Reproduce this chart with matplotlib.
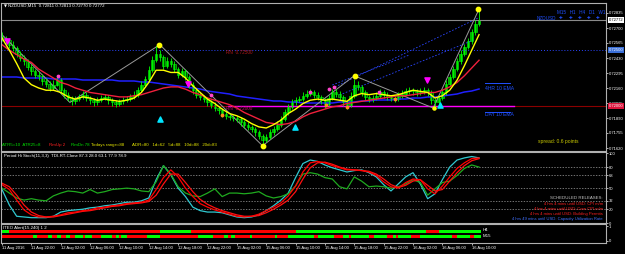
import numpy as np
import matplotlib
matplotlib.use("Agg")
import matplotlib.pyplot as plt

W, H = 625, 254
BASE = 0.72000
FONT = ['Liberation Sans', 'DejaVu Sans']

# NZDUSD M15, sampled every 2nd bar (30 min), pips above 0.72000
first_open = 63
close_pips = [61, 59, 55, 52, 47, 43, 40, 35, 31, 28, 27, 22, 20, 16, 19, 23, 14, 10, 7, 4,
              6, 8, 10, 7, 5, 3, 5, 7, 8, 5, 3, 2, 4, 5, 6, 8, 10, 14, 19, 24,
              32, 41, 47, 44, 36, 40, 38, 33, 28, 31, 26, 19, 14, 10, 8, 6, 3, 1, -2, -4,
              -7, -9, -10, -11, -12, -15, -17, -19, -21, -24, -27, -31, -28, -24, -21, -17, -12, -6, -1, 3,
              5, 6, 9, 11, 12, 10, 8, 5, 2, 7, 12, 11, 8, 3, 1, 9, 19, 17, 12, 8,
              6, 7, 9, 12, 10, 8, 7, 6, 9, 11, 13, 14, 13, 12, 13, 14, 12, 5, 3, 7,
              12, 20, 26, 33, 40, 47, 53, 58, 66, 74, 77]
high_pips = [66, 63, 61, 58, 54, 49, 46, 42, 38, 33, 31, 29, 25, 22, 23, 28, 25, 16, 12, 9,
             9, 11, 13, 12, 9, 7, 8, 10, 11, 10, 7, 5, 6, 8, 9, 11, 13, 17, 22, 27,
             36, 45, 54, 50, 46, 44, 43, 40, 35, 34, 33, 28, 21, 16, 12, 10, 8, 5, 3, 0,
             -2, -5, -7, -8, -9, -10, -13, -15, -17, -19, -22, -25, -25, -21, -18, -14, -9, -3, 2, 6,
             8, 9, 12, 14, 15, 14, 12, 10, 7, 10, 15, 15, 13, 10, 5, 12, 24, 22, 19, 14,
             10, 10, 12, 15, 14, 12, 10, 9, 12, 14, 16, 17, 16, 15, 16, 17, 16, 14, 7, 10,
             15, 23, 29, 36, 43, 50, 56, 61, 69, 77, 87]
low_pips = [58, 56, 52, 49, 44, 40, 37, 32, 28, 25, 23, 19, 17, 13, 14, 18, 11, 7, 4, 1,
            2, 4, 6, 4, 2, 0, 1, 3, 5, 2, 0, -1, 0, 2, 3, 4, 6, 8, 12, 17,
            22, 30, 39, 40, 33, 34, 35, 30, 25, 26, 23, 16, 11, 7, 5, 3, 0, -2, -5, -7,
            -10, -12, -13, -14, -15, -18, -20, -22, -24, -27, -30, -36, -33, -30, -26, -23, -19, -14, -8, -3,
            1, 3, 4, 7, 9, 7, 5, 2, -2, 0, 5, 8, 5, 0, -3, -1, 7, 14, 9, 5,
            3, 3, 5, 7, 7, 5, 4, 3, 4, 7, 9, 11, 10, 9, 10, 11, 9, 2, -2, 1,
            5, 10, 18, 24, 31, 38, 45, 51, 56, 64, 72]

# moving averages, every 4th bar, pips
yellow_ma = [61, 50, 38, 25, 19, 16, 14, 14, 12, 8, 6, 8, 7, 5, 6, 5, 4, 5, 7, 12,
             21, 32, 32, 30, 30, 25, 18, 12, 6, 2, -3, -7, -9, -12, -16, -19, -20, -17, -13, -7,
             -3, 2, 5, 6, 5, 6, 5, 4, 9, 11, 10, 11, 10, 9, 10, 12, 14, 13, 12, 7,
             9, 14, 23, 36, 50, 64]
red_ma = [55, 50, 46, 42, 39, 33, 29, 25, 21, 19, 16, 14, 12, 11, 10, 9, 8, 8, 9, 10,
          12, 14, 16, 17, 17, 15, 12, 10, 7, 5, 3, 1, -2, -6, -9, -12, -15, -16, -17, -16,
          -14, -10, -7, -5, -3, -1, 0, 2, 3, 4, 5, 6, 7, 8, 9, 9, 10, 11, 12, 12,
          14, 17, 21, 27, 34, 41]
blue_ma = [25.9, 25.9, 25.9, 25.0, 25.0, 25.0, 25.0, 24.1, 24.1, 24.1, 24.1, 23.2, 23.2, 23.2, 23.2,
           23.2, 22.3, 22.3, 22.3, 21.4, 21.4, 20.5, 19.6, 18.7, 17.8, 16.9, 16.0, 15.1, 13.3, 12.4,
           11.5, 10.6, 8.8, 7.9, 7.0, 6.1, 5.2, 4.3, 4.3, 3.4, 3.4, 2.5, 2.5, 2.5, 2.5,
           2.5, 3.4, 3.4, 3.4, 4.3, 4.3, 5.2, 5.2, 5.2, 6.1, 6.1, 7.0, 7.0, 7.9, 7.9,
           8.8, 9.7, 10.6, 12.4, 13.3, 15.1]

# Period Hi Stoch / TDI lines, every 4th bar
cyan_line = [48, 26, 10, 9, 8, 8, 8, 10, 16, 18, 19, 20, 22, 23, 25, 26, 28, 30, 30, 32,
             36, 62, 82, 69, 50, 38, 23, 18, 16, 16, 15, 12, 9, 8, 9, 12, 18, 25, 33, 43,
             65, 85, 90, 88, 83, 79, 76, 73, 75, 76, 72, 66, 55, 46, 56, 66, 72, 56, 35, 42,
             62, 80, 90, 93, 95, 93]
red_line1 = [55, 48, 33, 19, 12, 9, 9, 10, 12, 15, 16, 18, 19, 22, 23, 25, 26, 28, 29, 30,
             33, 48, 65, 76, 66, 50, 38, 28, 23, 19, 16, 13, 10, 9, 10, 13, 18, 23, 29, 39,
             53, 73, 86, 88, 86, 82, 79, 76, 76, 75, 73, 68, 59, 52, 50, 58, 63, 62, 49, 42,
             53, 66, 78, 86, 92, 93]
red_line2 = [57, 52, 40, 26, 16, 11, 9, 9, 11, 13, 15, 17, 18, 20, 22, 24, 25, 27, 28, 29,
             31, 40, 56, 70, 70, 58, 45, 34, 27, 22, 18, 15, 12, 10, 10, 11, 15, 20, 26, 33,
             45, 63, 79, 86, 87, 84, 80, 77, 76, 75, 74, 70, 63, 55, 51, 54, 60, 62, 54, 46,
             48, 60, 72, 82, 89, 92]
green_line = [50, 43, 36, 33, 35, 33, 32, 39, 43, 46, 45, 43, 48, 43, 45, 48, 49, 50, 49, 46,
              45, 59, 82, 70, 52, 43, 39, 38, 43, 49, 38, 43, 43, 42, 43, 45, 39, 36, 38, 42,
              53, 70, 72, 70, 65, 63, 52, 49, 66, 60, 52, 53, 52, 50, 52, 56, 62, 58, 40, 49,
              58, 60, 68, 78, 83, 80]

# zigzag swing points (bar, pips)
zigzag_bars = [0, 37, 86, 142, 192, 235, 260]
zigzag_pips = [64, 3, 55, -36, 27, -2, 87]
# ITEO alert: green stretches (bar from, bar to), red elsewhere
h4_green = [(0, 4), (86, 103), (160, 231), (238, 261)]
m15_green = [(17, 19), (25, 27), (30, 32), (35, 37), (40, 44), (45, 49), (54, 60), (62, 64),
             (65, 68), (79, 86), (107, 115), (121, 123), (125, 127), (135, 136), (149, 150),
             (156, 170), (172, 181), (186, 189), (190, 200), (203, 210), (213, 215), (216, 223),
             (228, 245), (248, 255), (257, 261)]

time_labels = ["11 Aug 2016", "11 Aug 22:00", "12 Aug 02:00", "12 Aug 06:00", "12 Aug 10:00",
               "12 Aug 14:00", "12 Aug 18:00", "12 Aug 22:00", "15 Aug 02:00", "15 Aug 06:00",
               "15 Aug 10:00", "15 Aug 14:00", "15 Aug 18:00", "15 Aug 22:00", "16 Aug 02:00",
               "16 Aug 06:00", "16 Aug 10:00"]
price_ticks = [0.72835, 0.72700, 0.72565, 0.72430, 0.72295, 0.72160, 0.72025, 0.71890, 0.71755, 0.71620]
stoch_ticks = [100, 80, 68, 50, 32, 20, 0]
stoch_levels = [80, 68, 50, 32, 20]

TICK_SIZE = 3.0


def label(fig, x, y, s, color='white', size=3.3, ha='left'):
    fig.text(x / W, 1 - y / H, s, color=color, fontsize=size, ha=ha, va='center', family=FONT)


def frame(ax):
    ax.set_facecolor('black')
    for s in ax.spines.values():
        s.set_color('#b0b0b0')
        s.set_linewidth(0.8)
    ax.set_xlim(-0.55, 329.2)


def main():
    fig = plt.figure(figsize=(W / 100, H / 100), dpi=100, facecolor='black')
    ax = fig.add_axes([1 / W, 1 - 151 / H, 605 / W, 148 / H])
    ax2 = fig.add_axes([1 / W, 1 - 223.3 / H, 605 / W, 71 / H])
    ax3 = fig.add_axes([1 / W, 1 - 243 / H, 605 / W, 19 / H])
    for a in (ax, ax2, ax3):
        frame(a)

    to_price = lambda p: BASE + np.asarray(p, float) / 10000.0
    bars = np.arange(len(close_pips)) * 2
    ma_bars = np.arange(len(yellow_ma)) * 4

    closes = to_price(close_pips)
    opens = to_price([first_open] + close_pips[:-1])
    highs = to_price(high_pips)
    lows = to_price(low_pips)

    # horizontal levels
    ax.axhline(0.72772, color='#8a8a8a', lw=0.8)
    ax.axhline(0.72500, color='#2a45ff', lw=0.7, ls=(0, (1, 2)))
    ax.axhline(0.72000, color='#8b0000', lw=0.8)
    ax.plot([123, 279], [0.72000, 0.72000], color='#ff00ff', lw=1.0)

    # channel lines
    ax.plot([181.5, 259.5], [0.72169, 0.72790], color='#2a45ff', lw=0.6, ls=(0, (2, 2)))
    ax.plot([184, 257], [0.72097, 0.72592], color='#2a45ff', lw=0.6, ls=(0, (2, 2)))
    ax.plot([180, 222], [0.72187, 0.72457], color='#2a45ff', lw=0.6, ls=(0, (2, 2)))

    ax.plot(ma_bars, to_price(blue_ma), color='#2020ff', lw=1.1)
    ax.plot(zigzag_bars, to_price(zigzag_pips), color='#9a9a9a', lw=0.7)

    up = closes >= opens
    ax.vlines(bars, lows, highs, color='#00ff00', lw=0.6)
    ax.bar(bars, closes - opens, bottom=opens, width=1.4,
           color=np.where(up, '#00b000', '#006000'), edgecolor='#00ff00', linewidth=0.4)

    ax.plot(ma_bars, to_price(red_ma), color='#f0203c', lw=1.0)
    ax.plot(ma_bars, to_price(yellow_ma), color='#ffff00', lw=1.0)

    # swing dots and arrows
    ax.scatter([85.6, 142.3, 192.4, 259.6], to_price([55, -36, 27, 87]), s=10, color='#ffff00', zorder=5)
    ax.scatter([235.4], to_price([-2]), s=5, color='#ffff00', zorder=5)
    ax.scatter([30.5, 113.8, 168, 178, 181, 205.5], to_price([27, 10, 12, 15, 17, 12]),
               s=3, color='#ff44cc', zorder=5)
    ax.scatter([119.8, 176.5, 188, 214.2], to_price([-8, 1, -1, 6]), s=3, color='#ff8c1a', zorder=5)
    ax.scatter([2.7, 101.4, 231.6], to_price([58, 20, 23]), marker='v', s=14, color='#ff00ff', zorder=6)
    ax.scatter([86.1, 159.7, 238.7], to_price([-12, -19, 1]), marker='^', s=14, color='#00e5ff', zorder=6)

    ax.set_ylim(0.715930, 0.729250)
    ax.yaxis.tick_right()
    ax.set_yticks(price_ticks)
    ax.set_yticklabels(['%.5f' % t for t in price_ticks])
    ax.set_xticks([])

    # price boxes on axis
    for val, fc, tc in [(0.72772, 'white', 'black'), (0.72500, '#3a6fd8', 'white'),
                        (0.72000, '#dc143c', 'white')]:
        ax.text(1.0045, val, '%.5f' % val, transform=ax.get_yaxis_transform(), color=tc,
                fontsize=TICK_SIZE, family=FONT, va='center', ha='left', clip_on=False, zorder=10,
                bbox=dict(boxstyle='square,pad=0.2', fc=fc, ec='none'))

    # stochastic panel
    for lv in stoch_levels:
        ax2.axhline(lv, color='#a0a0a0', lw=0.5, ls=(0, (2, 2)))
    ax2.plot(ma_bars, cyan_line, color='#30c8d0', lw=0.9)
    ax2.plot(ma_bars, green_line, color='#1faa1f', lw=0.9)
    ax2.plot(ma_bars, red_line2, color='#ff1010', lw=0.9)
    ax2.plot(ma_bars, red_line1, color='#ff0000', lw=0.9)
    ax2.set_ylim(0, 101)
    ax2.yaxis.tick_right()
    ax2.set_yticks(stoch_ticks)
    ax2.set_yticklabels([str(t) for t in stoch_ticks])
    ax2.set_xticks([])

    # ITEO alert rows
    ax3.set_ylim(-0.143, 1.143)
    for yrow, segs in [(0.64, h4_green), (0.29, m15_green)]:
        ax3.fill_between([0, 261], yrow - 0.1, yrow + 0.1, color='#ff0000', lw=0)
        for a, b in segs:
            ax3.fill_between([a, b], yrow - 0.1, yrow + 0.1, color='#00ff00', lw=0)
    ax3.yaxis.tick_right()
    ax3.set_yticks([1, 0])
    ax3.set_yticklabels(['1', '0'])
    ax3.set_xticks(np.arange(len(time_labels)) * 16)
    ax3.set_xticklabels(time_labels, ha='left')

    for a in (ax, ax2, ax3):
        a.tick_params(colors='white', labelsize=TICK_SIZE, length=1.5, width=0.5, pad=0.8)
        for t in a.get_xticklabels() + a.get_yticklabels():
            t.set_family(FONT)

    # texts
    fig.text(4 / W, 1 - 6 / H, "\u25bc", color='white', fontsize=2.8, va='center', family='DejaVu Sans')
    label(fig, 8, 6, "NZDUSD,M15  0.72811 0.72813 0.72770 0.72772", size=3.2)
    label(fig, 557, 12, "M15   H1   H4   D1   W1", color='#2050ff', size=3.3)
    label(fig, 537, 18, "NZDUSD", color='#2050ff', size=3.3)
    for x in [561, 571, 580, 589, 598]:
        fig.text(x / W, 1 - 18 / H, "\u271a", color='#2050ff', fontsize=3.2, va='center',
                 ha='center', family='DejaVu Sans')
    label(fig, 226, 53, "RN  0.72500", color='#b01818', size=3.4)
    label(fig, 226, 108, "RN  0.72000", color='#c01060', size=3.4)
    label(fig, 485, 88, "4HR 10 EMA", color='#2050ff', size=3.6)
    label(fig, 485, 115, "DAY 10 EMA", color='#2050ff', size=3.6)
    fig.add_artist(plt.Line2D([485 / W, 510 / W], [1 - 83 / H, 1 - 83 / H], color='#2050ff', lw=0.7))
    fig.add_artist(plt.Line2D([485 / W, 510 / W], [1 - 112 / H, 1 - 112 / H], color='#2050ff', lw=0.7))
    label(fig, 538, 141, "spread: 0.6 points", color='#c8c800', size=3.6)

    label(fig, 2, 145, "ATR5=10  ATR25=8", color='#00e000', size=3.2)
    label(fig, 49, 145, "RmUp 2", color='#ff2020', size=3.2)
    label(fig, 71, 145, "RmDn 78", color='#00e000', size=3.2)
    label(fig, 91, 145, "Todays range=88", color='#e8e800', size=3.2)
    label(fig, 132, 145, "ADR=80   1d=62   5d=88   10d=88   20d=83", color='#e8e800', size=3.2)

    label(fig, 4, 156, "Period Hi Stoch(11,3,3)  TDI-RT-Clone 87.3 28.0 63.1 77.9 78.9", size=3.2)
    label(fig, 603, 198, "SCHEDULED RELEASES:", color='#c8c8c8', size=3.2, ha='right')
    label(fig, 603, 204, "4 hrs 4 mins until USD: CPI m/m", color='#ff2020', size=3.0, ha='right')
    label(fig, 603, 209, "4 hrs 4 mins until USD: Core CPI m/m", color='#ff2020', size=3.0, ha='right')
    label(fig, 603, 214, "4 hrs 4 mins until USD: Building Permits", color='#ff2020', size=3.0, ha='right')
    label(fig, 603, 219, "4 hrs 49 mins until USD: Capacity Utilization Rate", color='#4070ff', size=3.0, ha='right')

    label(fig, 3, 228, "ITEO Alert(15,240) 1 2", size=3.2)
    label(fig, 483, 230, "H4", size=3.2)
    label(fig, 483, 236, "M15", size=3.2)

    fig.savefig("out.png", dpi=100, facecolor='black')


if __name__ == "__main__":
    main()
